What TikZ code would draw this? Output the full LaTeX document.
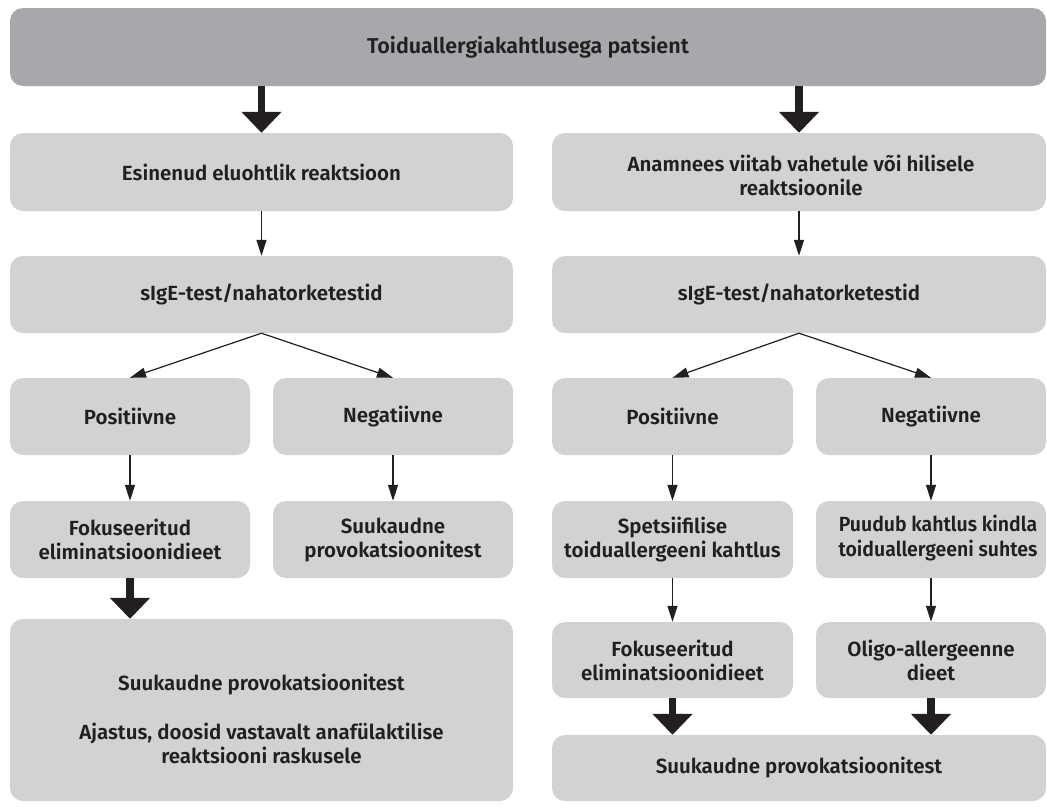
\documentclass[tikz,border=0pt]{standalone}
\usepackage{fontspec}
\usepackage{graphicx}
\setmainfont{Fira Sans SemiBold}
\usetikzlibrary{arrows.meta}
\definecolor{bardark}{HTML}{A7A8AB}
\definecolor{boxgray}{HTML}{D1D2D4}
\definecolor{ink}{HTML}{231F20}
\tikzset{
  box/.style={fill=boxgray, rounded corners=13pt, align=center, inner sep=0pt,
    font=\fontsize{20.5}{24}\selectfont, text=ink},
  boxtext/.style={font=\fontsize{20.5}{24}\selectfont, text=ink, align=center, inner sep=0pt},
  thinarrow/.style={draw=ink, line width=1.2pt, -{Triangle[width=10pt,length=16pt]}},
  thickarrow/.style={draw=ink, line width=7.5pt, -{Triangle[width=39pt,length=21pt]}},
}
\begin{document}
\begin{tikzpicture}[x=1pt,y=-1pt]
\useasboundingbox (0,0) rectangle (1047,807);
% top bar
\node[box, fill=bardark, minimum width=1036pt, minimum height=78pt, font=\fontsize{21.5}{24}\selectfont] (top) at (528,47) {Toiduallergiakahtlusega patsient};
% left column
\node[box, minimum width=503pt, minimum height=78pt] (L1) at (261.5,172) {Esinenud eluohtlik reaktsioon};
\node[box, minimum width=503pt, minimum height=77pt] (L2) at (261.5,294.5) {sIgE-test/nahatorketestid};
\node[box, minimum width=240pt, minimum height=77pt] (L3a) at (130,416.5) {Positiivne};
\node[box, minimum width=240pt, minimum height=77pt] (L3b) at (393,416.5) {Negatiivne};
\node[box, minimum width=240pt, minimum height=77pt] (L4a) at (130,539.5) {Fokuseeritud\\eliminatsioonidieet};
\node[box, minimum width=240pt, minimum height=77pt] (L4b) at (393,539.5) {Suukaudne\\provokatsioonitest};
\node[box, minimum width=503pt, minimum height=182pt] (L5) at (261.5,710) {};
\node[boxtext] (L5t) at (261.5,719) {Suukaudne provokatsioonitest\\[24.5pt]Ajastus, doosid vastavalt anafülaktilise\\reaktsiooni raskusele};
% right column
\node[box, minimum width=494pt, minimum height=78pt] (R1) at (799,172) {};
\node[boxtext] (R1t) at (801,175) {Anamnees viitab vahetule või hilisele\\reaktsioonile};
\node[box, minimum width=494pt, minimum height=77pt] (R2) at (799,294.5) {sIgE-test/nahatorketestid};
\node[box, minimum width=241pt, minimum height=77pt] (R3a) at (672.5,416.5) {Positiivne};
\node[box, minimum width=230pt, minimum height=77pt] (R3b) at (931,416.5) {Negatiivne};
\node[box, minimum width=241pt, minimum height=77pt] (R4a) at (672.5,539.5) {Spetsiifilise\\toiduallergeeni kahtlus};
\node[box, minimum width=230pt, minimum height=77pt] (R4b) at (931,539.5) {};
\node[boxtext] (R4bt) at (938,539.5) {\scalebox{0.95}[1]{\begin{tabular}{@{}c@{}}Puudub kahtlus kindla\\[1pt]toiduallergeeni suhtes\end{tabular}}};
\node[box, minimum width=241pt, minimum height=76pt] (R5a) at (672.5,660) {Fokuseeritud\\eliminatsioonidieet};
\node[box, minimum width=230pt, minimum height=76pt] (R5b) at (931,660) {Oligo-allergeenne\\dieet};
\node[box, minimum width=494pt, minimum height=66pt] (R6) at (799,768) {Suukaudne provokatsioonitest};
% arrows
\draw[thickarrow] (top.south -| L1.north) -- (L1.north);
\draw[thickarrow] (top.south -| R1.north) -- (R1.north);
\draw[thinarrow] (L1.south) -- (L2.north);
\draw[thinarrow] (L2.south) -- (L3a.north);
\draw[thinarrow] (L2.south) -- (L3b.north);
\draw[thinarrow] (L3a.south) -- (L4a.north);
\draw[thinarrow] (L3b.south) -- (L4b.north);
\draw[thickarrow] (L4a.south) -- (L4a.south |- L5.north);
\draw[thinarrow] (R1.south) -- (R2.north);
\draw[thinarrow] (R2.south) -- (R3a.north);
\draw[thinarrow] (R2.south) -- (R3b.north);
\draw[thinarrow] (R3a.south) -- (R4a.north);
\draw[thinarrow] (R3b.south) -- (R4b.north);
\draw[thinarrow] (R4a.south) -- (R5a.north);
\draw[thinarrow] (R4b.south) -- (R5b.north);
\draw[thickarrow] (R5a.south) -- (R5a.south |- R6.north);
\draw[thickarrow] (R5b.south) -- (R5b.south |- R6.north);
\end{tikzpicture}
\end{document}
